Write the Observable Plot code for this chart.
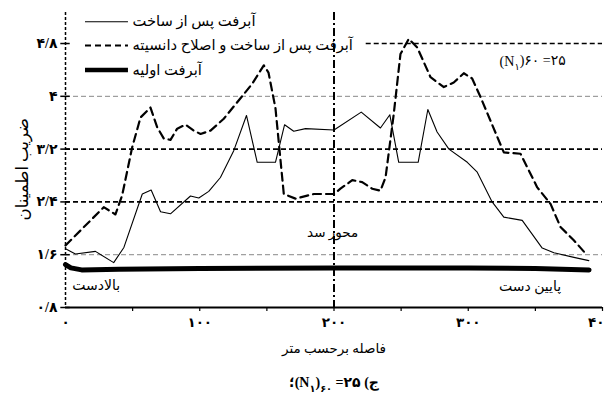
<!DOCTYPE html>
<html><head><meta charset="utf-8">
<script src="https://cdn.jsdelivr.net/npm/d3@7"></script>
<script src="https://cdn.jsdelivr.net/npm/@observablehq/plot@0.6"></script>
<style>
body{margin:0;background:#fff}
svg{font-family:"Liberation Serif","DejaVu Sans",serif}
</style>
</head><body><div id="chart"></div>
<script>
// آبرفت پس از ساخت (solid thin)
const afterX = [0,7.4,22.3,35.9,43.5,57.2,63.8,70.8,78.2,93.1,99.3,106.7,115.4,125.4,134.8,142.8,156.4,163.2,170,178.8,200,220.3,234.6,241.6,248.2,262.7,269.9,276.8,285.6,299.3,306.7,317.8,326.5,340.2,355.1,363.8,378.7,389.8];
const afterY = [1.69,1.61,1.65,1.48,1.71,2.52,2.58,2.25,2.22,2.49,2.46,2.56,2.77,3.18,3.71,3.0,3.0,3.57,3.47,3.51,3.49,3.76,3.52,3.72,3.0,3.0,3.80,3.46,3.20,3.0,2.85,2.40,2.17,2.12,1.70,1.63,1.56,1.51];
// آبرفت پس از ساخت و اصلاح دانسیته (dashed)
const improvedX = [0,28.5,37.2,42.2,49.7,55.9,63.3,68.3,73.2,78.2,83.2,89.4,95.6,100.6,108,117.9,127.9,139.1,147.7,151.2,156.4,162.6,171.3,185,200,204.8,213.6,221,228.5,234.6,238.4,244.5,249.5,255.7,262,271.9,281.8,289.2,296.7,302.9,309.1,326.5,338.9,351.4,361.3,368.7,378.6,388.6];
const improvedY = [1.74,2.32,2.21,2.50,3.23,3.68,3.83,3.53,3.36,3.34,3.51,3.57,3.48,3.43,3.48,3.66,3.91,4.19,4.47,4.36,3.82,2.52,2.45,2.52,2.52,2.60,2.73,2.70,2.60,2.57,2.77,3.73,4.64,4.87,4.74,4.29,4.14,4.21,4.35,4.27,3.99,3.15,3.13,2.62,2.37,2.02,1.82,1.59];
// آبرفت اولیه (thick)
const initialX = [0,4,12,40,100,200,300,350,390];
const initialY = [1.45,1.40,1.37,1.38,1.39,1.40,1.40,1.39,1.37];

const yTickValues = [4.8,4.0,3.2,2.4,1.6,0.8];
const yTickLabels = ["۴/۸","۴","۳/۲","۲/۴","۱/۶","۰/۸"];
const xMinorTicks = [50,100,150,200,250,300,350,400];
const xTickValues = [0,100,200,300,400];
const xTickLabels = ["۰","۱۰۰","۲۰۰","۳۰۰","۴۰"];

const legendNames = ["آبرفت پس از ساخت","آبرفت پس از ساخت و اصلاح دانسیته","آبرفت اولیه"];
const legendRowY = [5.13,4.77,4.40];

// caption pieces in visual (left-to-right) order; sub = subscript
const captionParts = [
  {t:"؛(N", sub:false}, {t:"۱", sub:true}, {t:")", sub:false},
  {t:"۶۰", sub:true}, {t:" =۲۵ (ج", sub:false}
];

const series = (xs, ys) => xs.map((x,i)=>({x, y: ys[i]}));
const LRO = "\u202D", PDF = "\u202C";

const plot = Plot.plot({
  width: 608, height: 399,
  marginLeft: 65, marginRight: 6, marginTop: 12, marginBottom: 92,
  x: {domain:[0,400], axis:null},
  y: {domain:[0.8,5.27], axis:null},
  marks: [
    Plot.ruleY([4.0,1.6], {stroke:"#888", strokeWidth:1, strokeDasharray:"5,3"}),
    Plot.ruleY([3.2,2.4], {stroke:"#000", strokeWidth:1.6, strokeDasharray:"5,3"}),
    Plot.ruleY([4.8], {x1:224, x2:400, stroke:"#000", strokeWidth:1.6, strokeDasharray:"5,3"}),
    Plot.ruleX([0], {stroke:"#000", strokeWidth:1.5, strokeDasharray:"3,2"}),
    Plot.ruleX([200], {stroke:"#000", strokeWidth:2, strokeDasharray:"8,3,2,3"}),
    Plot.ruleY([0.8], {x1:0, x2:400, stroke:"#000", strokeWidth:2}),
    Plot.ruleX(xMinorTicks, {y1:0.8, y2:0.74, stroke:"#000", strokeWidth:1.2}),
    Plot.ruleY(yTickValues, {x1:-3.5, x2:3.5, stroke:"#000", strokeWidth:1.5}),
    Plot.text(xTickLabels.slice(0,4), {x:(d,i)=>xTickValues[i], text:d=>d, frameAnchor:"bottom", dy:19, fontSize:13.5, fontWeight:"bold"}),
    Plot.text(xTickLabels.slice(4), {x:(d,i)=>xTickValues[4+i], text:d=>d, frameAnchor:"bottom", dy:19, dx:2, textAnchor:"end", fontSize:13.5, fontWeight:"bold"}),
    Plot.text(yTickLabels, {y:(d,i)=>yTickValues[i], text:d=>d, frameAnchor:"left", dx:-8, textAnchor:"end", fontSize:14, fontWeight:"bold"}),
    Plot.text(["ضریب اطمینان"], {y:2.12, frameAnchor:"left", dx:-43, rotate:-90, fontSize:16.5}),
    Plot.text(["فاصله برحسب متر"], {x:200, frameAnchor:"bottom", dy:45, fontSize:13.5}),
    Plot.text([captionParts.map(p=>p.t).join("")], {x:200, frameAnchor:"bottom", dy:79, fontSize:14, fontWeight:"bold", className:"caption"}),
    Plot.text(["(N|۱|)۶۰ =۲۵"], {x:348, y:4.52, fontSize:14, className:"annot"}),
    Plot.text(["محور سد"], {x:199, y:1.93, fontSize:13.5}),
    Plot.text(["بالادست"], {x:5, y:1.14, textAnchor:"start", fontSize:14}),
    Plot.text(["پایین دست"], {x:346, y:1.12, fontSize:14}),
    Plot.line(series(initialX, initialY), {x:"x", y:"y", stroke:"#000", strokeWidth:5}),
    Plot.line(series(afterX, afterY), {x:"x", y:"y", stroke:"#000", strokeWidth:1.1}),
    Plot.line(series(improvedX, improvedY), {x:"x", y:"y", stroke:"#000", strokeWidth:2.2, strokeDasharray:"8,5"}),
    // legend
    Plot.ruleY([legendRowY[0]], {x1:14.9, x2:46.9, stroke:"#000", strokeWidth:1.1}),
    Plot.ruleY([legendRowY[1]], {x1:14.9, x2:46.9, stroke:"#000", strokeWidth:2.2, strokeDasharray:"6,4"}),
    Plot.ruleY([legendRowY[2]], {x1:14.9, x2:46.9, stroke:"#000", strokeWidth:4.5}),
    Plot.text(legendNames, {x:49.9, y:(d,i)=>legendRowY[i], text:d=>d, textAnchor:"start", fontSize:14.7})
  ]
});
document.getElementById("chart").appendChild(plot);
const svg = d3.select(plot);

// annotation subscript
svg.selectAll(".annot text").each(function(){
  const t = d3.select(this);
  const parts = t.text().split("|");
  t.text(null);
  parts.forEach((p,i)=>{
    const ts = t.append("tspan").text(p);
    if (i===1) ts.attr("dy","0.35em").attr("font-size","0.7em");
    if (i===2) ts.attr("dy","-0.35em");
  });
});

// caption: lay out pieces as separate left-to-right text elements
svg.selectAll(".caption text").each(function(){
  const node = this, g = d3.select(node.parentNode);
  const y0 = +(node.getAttribute("y") || 0);
  const tr = node.getAttribute("transform");
  const dyAttr = node.getAttribute("dy");
  const pieces = captionParts.map(p=>{
    const el = g.append("text").attr("text-anchor","start").attr("direction","ltr")
      .attr("y", y0).text(LRO + p.t + PDF);
    if (tr) el.attr("transform", tr);
    if (dyAttr) el.attr("dy", dyAttr);
    if (p.sub) el.attr("font-size","0.7em").attr("y", y0 + 5);
    return el;
  });
  const widths = pieces.map(el=>el.node().getComputedTextLength());
  const total = d3.sum(widths);
  const x0 = +(node.getAttribute("x") || 0);
  let cx = x0 - total/2;
  pieces.forEach((el,i)=>{ el.attr("x", cx); cx += widths[i]; });
  node.remove();
});
</script>
</body></html>
